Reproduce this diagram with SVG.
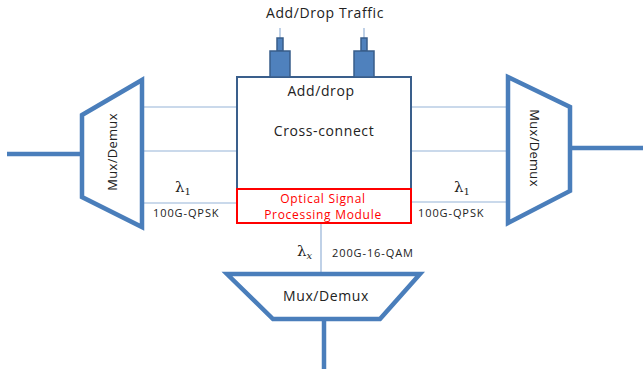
<svg xmlns="http://www.w3.org/2000/svg" width="643" height="369" viewBox="0 0 643 369">
<style>
.thick{stroke:#4a7ebb;stroke-width:4.5;fill:none;stroke-linejoin:miter}
.thin{stroke:#95b3d7;stroke-width:1.2;fill:none}
.box{stroke:#3a5f8c;stroke-width:2;fill:#fff}
.port{fill:#4f81bd;stroke:#385d8a;stroke-width:1.5}
text{font-family:"Open Sans","Liberation Sans",sans-serif;fill:#222}
.lab{font-size:14px;letter-spacing:0.6px}
.sm{font-size:11px;letter-spacing:0.9px}
.lam{font-family:"DejaVu Serif","Liberation Serif",serif;font-size:15px}
.red{fill:#ff0000;font-size:12px;letter-spacing:0.7px}
</style>
<rect width="643" height="369" fill="#fff"/>
<g id="connectors">
<line class="thick" x1="7" y1="154" x2="82" y2="154"/>
<line class="thick" x1="570" y1="148" x2="643" y2="148"/>
<line class="thick" x1="324" y1="319" x2="324" y2="369"/>
<polyline class="thin" points="143,107 280,107 280,77"/>
<polyline class="thin" points="364,77 364,107 508,107"/>
<line class="thin" x1="143" y1="151" x2="508" y2="151"/>
<line class="thin" x1="143" y1="203" x2="237" y2="203"/>
<line class="thin" x1="411" y1="202" x2="508" y2="202"/>
<line class="thin" x1="321" y1="223" x2="321" y2="272"/>
<line class="thin" x1="280" y1="28" x2="280" y2="51"/>
<line class="thin" x1="364" y1="28" x2="364" y2="51"/>
</g>
<g id="crossconnect">
<rect class="box" x="237" y="77" width="174" height="146"/>
<text class="lab" x="321" y="96" text-anchor="middle">Add/drop</text>
<text class="lab" x="324" y="136" text-anchor="middle">Cross-connect</text>
</g>
<g id="ports">
<rect class="port" x="277" y="38" width="6" height="13" stroke="none"/>
<rect class="port" x="361" y="38" width="6" height="13" stroke="none"/>
<rect class="port" x="270" y="51" width="20" height="26"/>
<rect class="port" x="354" y="51" width="20" height="26"/>
<text class="lab" x="325" y="18" text-anchor="middle">Add/Drop Traffic</text>
</g>
<g id="ospm">
<rect x="237" y="189" width="174" height="34" fill="#fff" stroke="#ff0000" stroke-width="2"/>
<text class="red" x="323" y="203" text-anchor="middle">Optical Signal</text>
<text class="red" x="323" y="218.5" text-anchor="middle">Processing Module</text>
</g>
<g id="muxLeft">
<polygon class="thick" points="82,115 142,80 142,227 82,197"/>
<text class="lab" transform="translate(117,152) rotate(-90)" text-anchor="middle" style="font-size:13px;letter-spacing:0.3px">Mux/Demux</text>
</g>
<g id="muxRight">
<polygon class="thick" points="508,77 570,107 570,191 508,223"/>
<text class="lab" transform="translate(530,148) rotate(90)" text-anchor="middle" style="font-size:13px;letter-spacing:0.3px">Mux/Demux</text>
</g>
<g id="muxBottom">
<polygon class="thick" points="227,274 420,274 380,319 273,319"/>
<text class="lab" x="326" y="301" text-anchor="middle">Mux/Demux</text>
</g>
<g id="labels">
<text class="lam" x="175" y="192">λ<tspan font-size="10" dy="3">1</tspan></text>
<text class="sm" x="153" y="217">100G-QPSK</text>
<text class="lam" x="454" y="192">λ<tspan font-size="10" dy="3">1</tspan></text>
<text class="sm" x="418" y="217">100G-QPSK</text>
<text class="lam" x="297" y="256">λ<tspan font-size="10" font-style="italic" dy="3">x</tspan></text>
<text class="sm" x="332" y="257">200G-16-QAM</text>
</g>
</svg>
